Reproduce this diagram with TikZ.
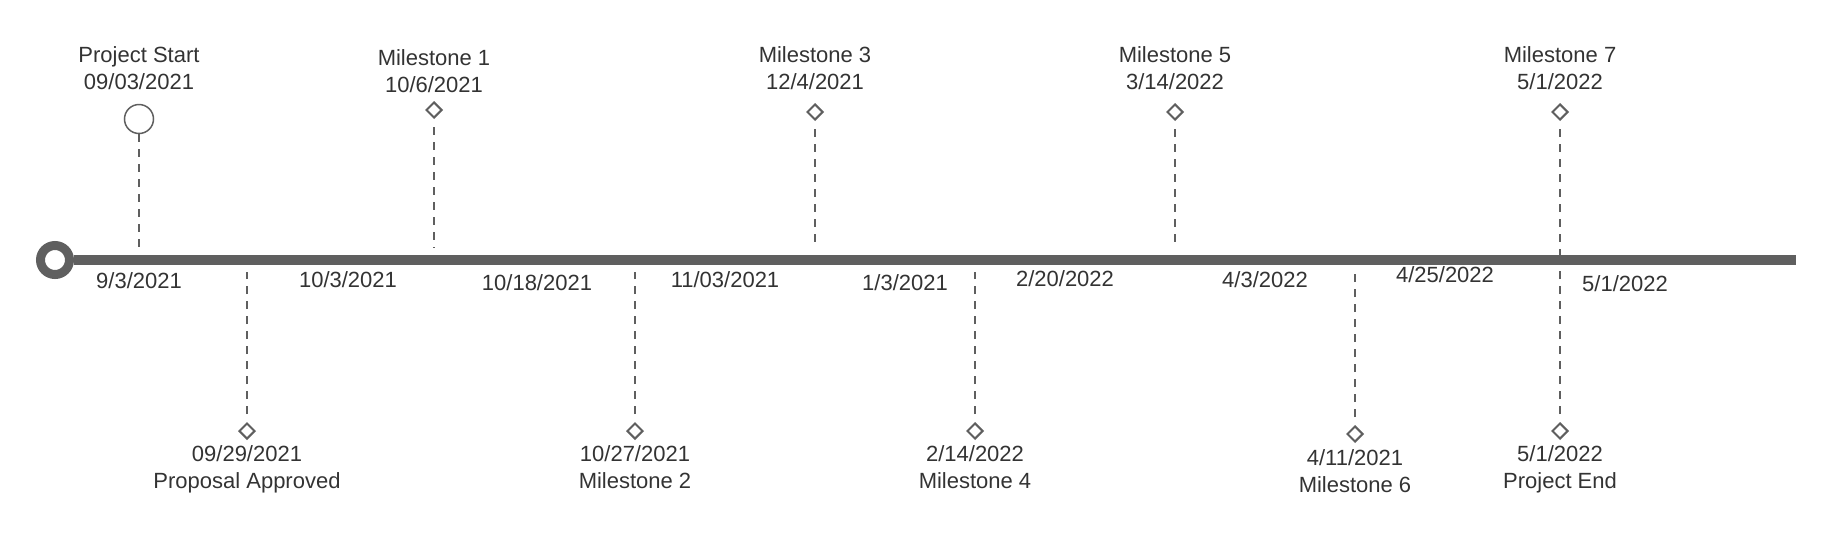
\documentclass[tikz,border=0pt]{standalone}
\usepackage{fontspec}
\setmainfont{Liberation Sans}
\usetikzlibrary{shapes.geometric}
\definecolor{lc}{HTML}{5F5F5F}
\definecolor{txt}{HTML}{333333}
\tikzset{
  lbl/.style={font=\fontsize{22}{26.5}\selectfont, text=txt, inner sep=0pt, align=center, anchor=base},
  ms/.style={diamond, aspect=1, draw=lc, line width=2pt, fill=white, inner sep=0pt, minimum width=16pt, minimum height=16pt},
  lead/.style={draw=lc, line width=1.5pt, dash pattern=on 8pt off 7pt},
  gap/.style={shorten <=8pt},
}
\begin{document}
\begin{tikzpicture}[x=1pt,y=-1pt]
\useasboundingbox (0,0) rectangle (1836,547);
% main line
\node (ring) [circle, draw=lc, line width=9pt, minimum size=29pt, inner sep=0pt] at (55,260) {};
\coordinate (lend) at (1796,260);
\draw[line width=10pt, draw=lc] (ring.east) -- (lend);

% top events (node base = baseline of last line)
\node[lbl] (pst) at (139,89) {Project Start\\09/03/2021};
\node (psc) [circle, draw=lc, line width=1.5pt, minimum size=29pt, inner sep=0pt] at (139,119) {};
\coordinate (psl) at (139,248);
\draw[lead] (psc) -- (psl);

\node[lbl] (m1t) at (434,92) {Milestone 1\\10/6/2021};
\node[ms] (m1d) at (434,110) {};
\coordinate (m1l) at (434,248);
\draw[lead, gap] (m1d) -- (m1l);

\node[lbl] (m3t) at (815,89) {Milestone 3\\12/4/2021};
\node[ms] (m3d) at (815,112) {};
\coordinate (m3l) at (815,248);
\draw[lead, gap] (m3d) -- (m3l);

\node[lbl] (m5t) at (1175,89) {Milestone 5\\3/14/2022};
\node[ms] (m5d) at (1175,112) {};
\coordinate (m5l) at (1175,248);
\draw[lead, gap] (m5d) -- (m5l);

\node[lbl] (m7t) at (1560,89) {Milestone 7\\5/1/2022};
\node[ms] (m7d) at (1560,112) {};
\coordinate (m7l) at (1560,255);
\draw[lead, gap] (m7d) -- (m7l);

% bottom events
\node[ms] (pad) at (247,431) {};
\node[lbl] (pat) at (247,488) {09/29/2021\\Proposal Approved};
\coordinate (pal) at (247,272);
\draw[lead, gap] (pad) -- (pal);

\node[ms] (m2d) at (635,431) {};
\node[lbl] (m2t) at (635,488) {10/27/2021\\Milestone 2};
\coordinate (m2l) at (635,272);
\draw[lead, gap] (m2d) -- (m2l);

\node[ms] (m4d) at (975,431) {};
\node[lbl] (m4t) at (975,488) {2/14/2022\\Milestone 4};
\coordinate (m4l) at (975,272);
\draw[lead, gap] (m4d) -- (m4l);

\node[ms] (m6d) at (1355,434) {};
\node[lbl] (m6t) at (1355,492) {4/11/2021\\Milestone 6};
\coordinate (m6l) at (1355,272);
\draw[lead, gap] (m6d) -- (m6l);

\node[ms] (ped) at (1560,431) {};
\node[lbl] (pet) at (1560,488) {5/1/2022\\Project End};
\coordinate (pel) at (1560,265);
\draw[lead, gap] (ped) -- (pel);

% dates along the line
\node[lbl] (d1) at (139,288) {9/3/2021};
\node[lbl] (d2) at (348,287) {10/3/2021};
\node[lbl] (d3) at (537,290) {10/18/2021};
\node[lbl] (d4) at (725,287) {11/03/2021};
\node[lbl] (d5) at (905,290) {1/3/2021};
\node[lbl] (d6) at (1065,286) {2/20/2022};
\node[lbl] (d7) at (1265,287) {4/3/2022};
\node[lbl] (d8) at (1445,282) {4/25/2022};
\node[lbl] (d9) at (1625,291) {5/1/2022};
\end{tikzpicture}
\end{document}
